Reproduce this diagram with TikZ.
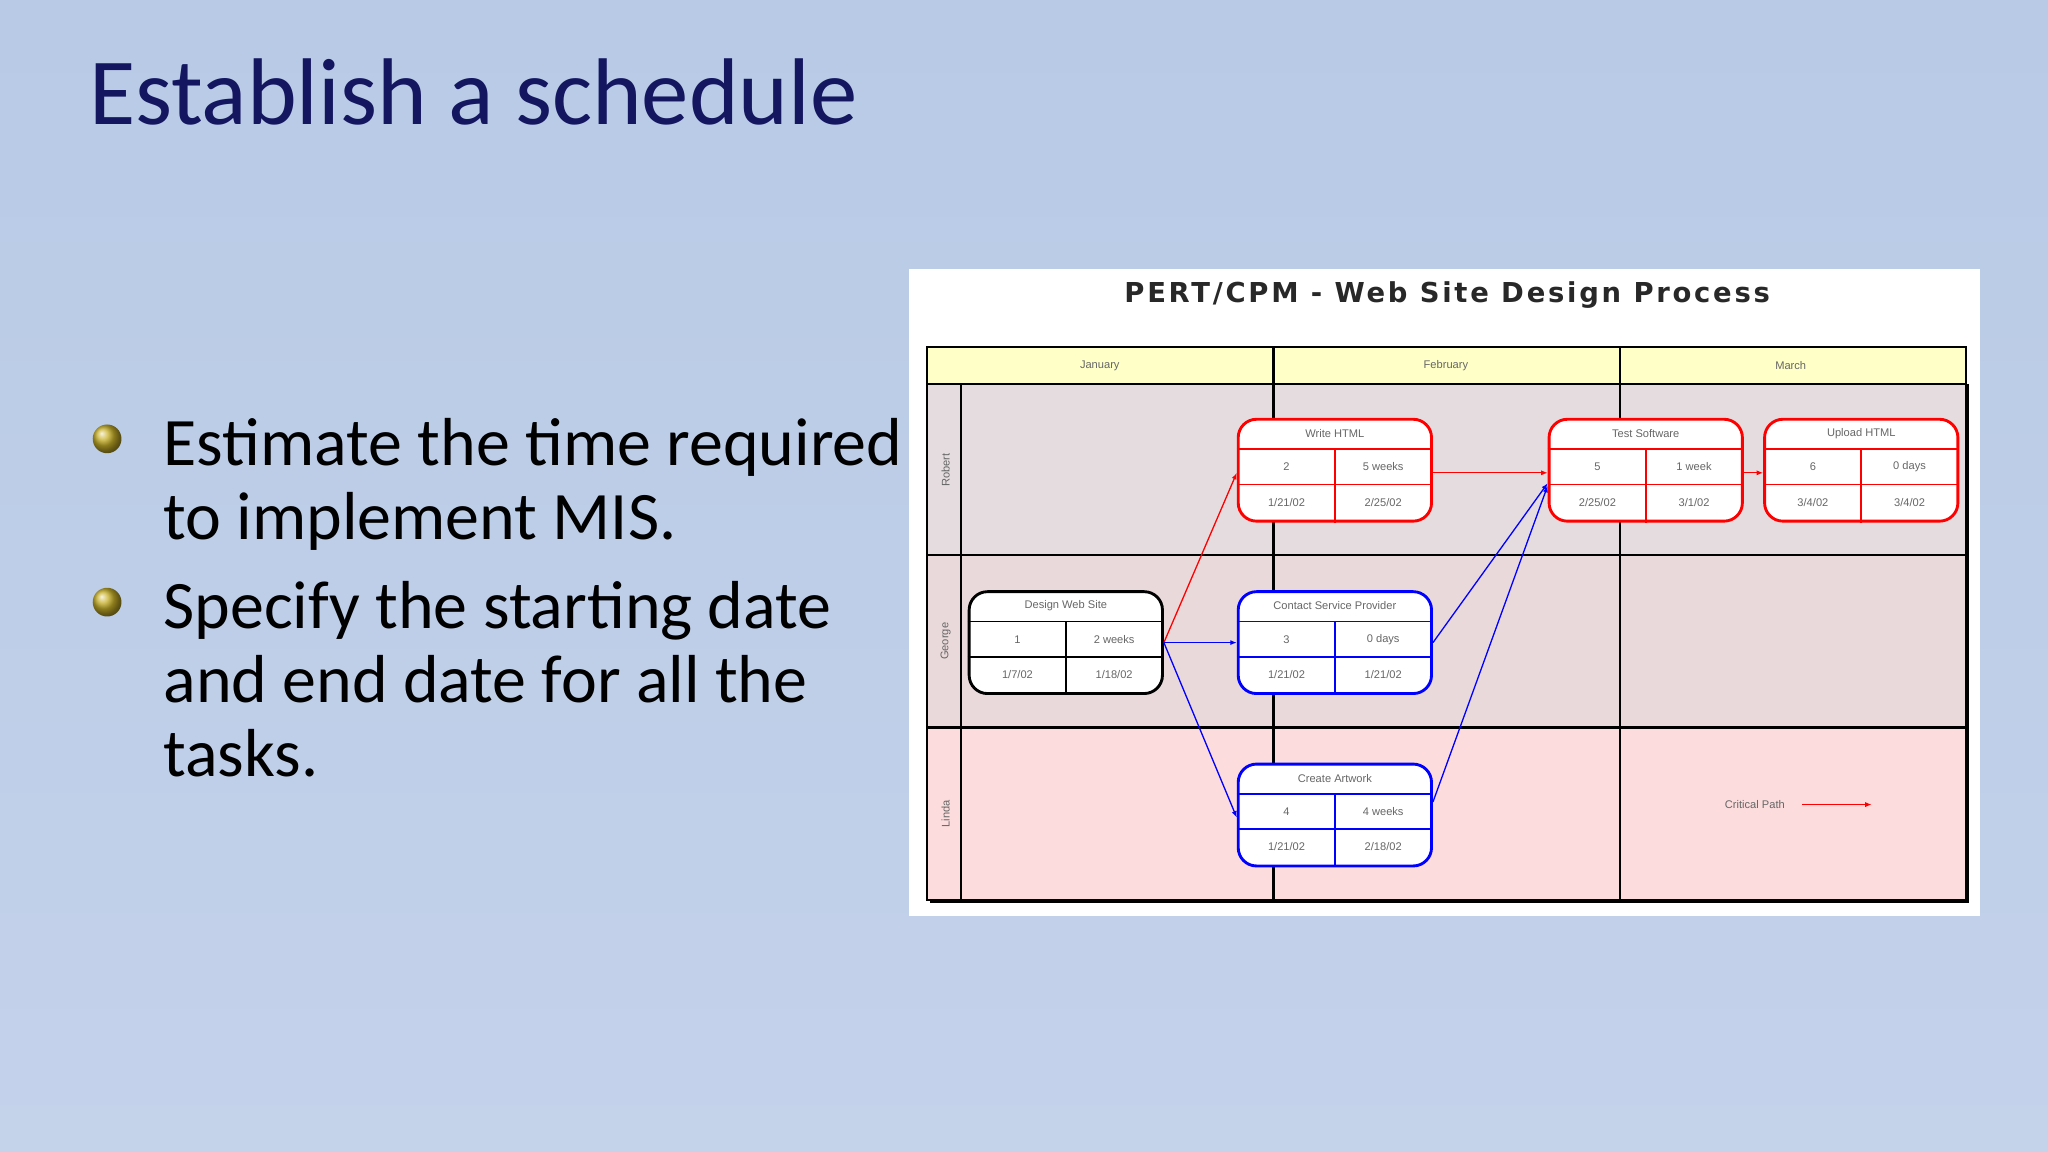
\documentclass[tikz,border=0pt]{standalone}
\usepackage{fontspec}
\setmainfont{Carlito}
\newfontfamily\arialf{Liberation Sans}
\newfontfamily\verd[LetterSpace=10]{DejaVu Sans}
\definecolor{navy}{HTML}{141660}
\definecolor{hdr}{HTML}{FFFFC8}
\definecolor{laneA}{HTML}{E4DCDE}
\definecolor{laneB}{HTML}{EAD9DB}
\definecolor{laneC}{HTML}{FCDCDC}
\definecolor{txtg}{HTML}{666666}
\definecolor{pred}{HTML}{FF0000}
\definecolor{pblue}{HTML}{0000FF}
\tikzset{
  pbox/.style={rounded corners=14pt,fill=white,line width=2.2pt,minimum width=148pt,minimum height=78pt,inner sep=0pt},
  ptxt/.style={font=\arialf\fontsize{8.5}{9}\selectfont,text=txtg},
  lanelbl/.style={font=\arialf\fontsize{8.5}{9}\selectfont,text=txtg,rotate=90},
  conn/.style={line width=1pt,-{Latex[length=5pt,width=4pt]}},
  bul/.style={font=\fontsize{52}{56.5}\selectfont,text=black,anchor=north west,align=left,inner sep=0pt}
}
\usetikzlibrary{arrows.meta}
\newcommand\pnode[9]{%
  \node[pbox,draw=#4] (#1) at (#2,#3) {};
  \draw[#4,line width=1.2pt] ([yshift=-24pt]#1.north west) -- ([yshift=-24pt]#1.north east);
  \draw[#4,line width=1.2pt] ([yshift=-51pt]#1.north west) -- ([yshift=-51pt]#1.north east);
  \draw[#4,line width=1.2pt] ([yshift=-24pt]#1.north) -- (#1.south);
  \node[ptxt] at ([yshift=-12pt]#1.north) {#5};
  \node[ptxt] at ([xshift=-37pt,yshift=-37.5pt]#1.north) {#6};
  \node[ptxt] at ([xshift=37pt,yshift=-37.5pt]#1.north) {#7};
  \node[ptxt] at ([xshift=-37pt,yshift=-64.5pt]#1.north) {#8};
  \node[ptxt] at ([xshift=37pt,yshift=-64.5pt]#1.north) {#9};
}
\begin{document}
\begin{tikzpicture}[x=1pt,y=-1pt]
\useasboundingbox (0,0) rectangle (1568,882);
\shade[top color={rgb,255:red,184;green,202;blue,230},bottom color={rgb,255:red,196;green,210;blue,234}] (0,0) rectangle (1568,882);
% title
\node[anchor=base west,inner sep=0pt,text=navy,font=\fontsize{72.5}{80}\selectfont] (title) at (68,95) {Establish a schedule};
% bullets
\shade[ball color={rgb,255:red,200;green,176;blue,40}] (82,336) circle (11);
\shade[ball color={rgb,255:red,200;green,176;blue,40}] (82,461) circle (11);
\node[bul] (b1) at (125,320) {Estimate the time required\\to implement MIS.};
\node[bul] (b2) at (125,445) {Specify the starting date\\and end date for all the\\tasks.};
% panel
\fill[white] (696,206) rectangle (1516,701);
\node[font=\verd\bfseries\fontsize{21}{24}\selectfont,text={rgb,255:red,40;green,40;blue,40}] (dt) at (1108,226) {PERT/CPM - Web Site Design Process};
% lanes
\fill[hdr] (710,266) rectangle (1505,294);
\fill[laneA] (710,294) rectangle (1505,425);
\fill[laneB] (710,425) rectangle (1505,557);
\fill[laneC] (710,557) rectangle (1505,689);
\draw[line width=1.6pt] (710,266) rectangle (1505,689);
\draw[line width=1.6pt] (710,294) -- (1505,294);
\draw[line width=1.6pt] (710,425) -- (1505,425);
\draw[line width=1.6pt] (710,557) -- (1505,557);
\draw[line width=1.6pt] (736,294) -- (736,689);
\draw[line width=1.6pt] (975,266) -- (975,689);
\draw[line width=1.6pt] (1240,266) -- (1240,689);
\draw[line width=2.5pt] (1506,294) -- (1506,690) -- (712,690);
\node[ptxt] (m1) at (842,280) {January};
\node[ptxt] (m2) at (1107,280) {February};
\node[ptxt] (m3) at (1371,280) {March};
\node[lanelbl] (l1) at (724,360) {Robert};
\node[lanelbl] (l2) at (724,491) {George};
\node[lanelbl] (l3) at (724,623) {Linda};
% nodes
\pnode{dws}{816}{492}{black}{Design Web Site}{1}{2 weeks}{1/7/02}{1/18/02}
\pnode{wh}{1022}{360}{pred}{Write HTML}{2}{5 weeks}{1/21/02}{2/25/02}
\pnode{csp}{1022}{492}{pblue}{Contact Service Provider}{3}{0 days}{1/21/02}{1/21/02}
\pnode{ca}{1022}{624}{pblue}{Create Artwork}{4}{4 weeks}{1/21/02}{2/18/02}
\pnode{ts}{1260}{360}{pred}{Test Software}{5}{1 week}{2/25/02}{3/1/02}
\pnode{uh}{1425}{360}{pred}{Upload HTML}{6}{0 days}{3/4/02}{3/4/02}
% connectors
\draw[conn,pred] (dws.east) -- ([yshift=-2pt]wh.west);
\draw[conn,pred] ([yshift=-2pt]wh.east) -- ([yshift=-2pt]ts.west);
\draw[conn,pred] ([yshift=-2pt]ts.east) -- ([yshift=-2pt]uh.west);
\draw[conn,pblue] (dws.east) -- (csp.west);
\draw[conn,pblue] (dws.east) -- ([yshift=-2pt]ca.west);
\draw[conn,pblue] (csp.east) -- ([yshift=-10pt]ts.west);
\draw[conn,pblue] ([yshift=10pt]ca.east) -- ([yshift=-12pt]ts.west);
% legend
\node[ptxt,anchor=east] (cp) at (1370,616) {Critical Path};
\coordinate (cpe) at (1433,616);
\draw[conn,pred] ([xshift=10pt]cp.east) -- (cpe);
\end{tikzpicture}
\end{document}
